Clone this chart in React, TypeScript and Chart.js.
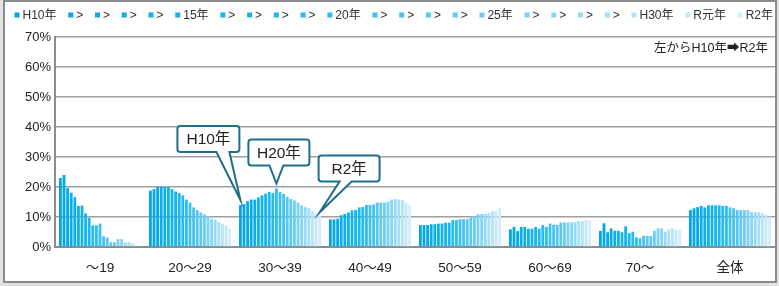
import React, { useEffect, useRef } from "react";
import { Chart, registerables } from "chart.js";

Chart.register(...registerables);

const FONT = "'Liberation Sans', 'Noto Sans CJK JP', 'DejaVu Sans', sans-serif";

const categories = ["～19", "20～29", "30～39", "40～49", "50～59", "60～69", "70～", "全体"];
const yearLabels = [
  "H10年", ">", ">", ">", ">", "15年", ">", ">", ">", ">", "20年",
  ">", ">", ">", ">", "25年", ">", ">", ">", ">", "H30年", "R元年", "R2年",
];
const yMax = 70;
const yStep = 10;
const note = "左からH10年➡R2年";

// values (%) for each age group, H10 → R2
const age19 = [23.0, 24.0, 19.6, 18.1, 16.6, 13.7, 13.8, 11.2, 9.7, 7.2, 7.2, 7.8, 3.6, 3.1, 1.6, 1.6, 2.6, 2.6, 1.6, 1.6, 1.1, 0.6, 0.3];
const age20 = [18.8, 19.3, 20.0, 20.0, 20.0, 20.0, 19.3, 18.5, 18.0, 17.2, 15.8, 14.8, 13.2, 12.3, 11.5, 10.9, 10.3, 9.4, 9.2, 8.3, 7.6, 7.2, 6.1];
const age30 = [14.0, 14.3, 15.3, 15.8, 15.8, 16.5, 17.2, 17.8, 18.4, 18.0, 19.5, 18.3, 17.7, 16.7, 16.0, 15.5, 14.8, 14.0, 13.3, 13.0, 12.0, 11.2, 10.5];
const age40 = [9.2, 9.2, 9.4, 10.6, 11.0, 11.5, 12.2, 12.4, 13.2, 13.3, 14.0, 14.0, 14.2, 14.8, 14.8, 14.8, 15.1, 15.8, 16.0, 15.8, 15.7, 14.8, 14.0];
const age50 = [7.3, 7.3, 7.3, 7.6, 7.6, 7.8, 7.8, 8.1, 8.1, 9.0, 9.0, 9.3, 9.3, 9.3, 9.8, 10.4, 11.0, 11.0, 11.0, 11.3, 12.0, 12.0, 13.0];
const age60 = [5.9, 6.7, 5.3, 6.7, 6.7, 6.1, 6.1, 6.7, 6.1, 7.3, 6.7, 7.8, 7.4, 7.4, 8.2, 8.2, 8.2, 8.2, 8.3, 8.7, 8.7, 9.1, 8.7];
const age70 = [5.4, 7.9, 4.9, 6.2, 5.4, 5.4, 4.9, 6.9, 4.6, 5.1, 3.2, 2.9, 3.7, 3.7, 3.7, 5.4, 6.2, 6.2, 5.1, 5.8, 6.2, 5.7, 5.7];
const ageAll = [12.3, 12.9, 13.3, 13.7, 13.2, 13.9, 13.9, 13.9, 13.9, 13.7, 13.7, 13.2, 12.9, 12.3, 12.3, 12.3, 12.3, 11.6, 11.6, 11.6, 11.2, 10.7, 10.1];

const groups = [age19, age20, age30, age40, age50, age60, age70, ageAll];

// callouts: which bar (dataset index, category index) they point at
const callouts = [
  { text: "H10年", dataset: 0, category: 2 },
  { text: "H20年", dataset: 10, category: 2 },
  { text: "R2年", dataset: 22, category: 2 },
];

const colorStops: [number, number[]][] = [
  [0, [0, 166, 232]],
  [8, [25, 184, 238]],
  [14, [95, 201, 242]],
  [18, [150, 218, 246]],
  [22, [212, 237, 250]],
];

function colorAt(i: number): string {
  for (let k = 0; k < colorStops.length - 1; k++) {
    const [a, ca] = colorStops[k];
    const [b, cb] = colorStops[k + 1];
    if (i >= a && i <= b) {
      const t = (i - a) / (b - a);
      const c = ca.map((v, j) => Math.round(v + (cb[j] - v) * t));
      return `rgb(${c[0]},${c[1]},${c[2]})`;
    }
  }
  return "rgb(212,237,250)";
}

function calloutPath(
  ctx: CanvasRenderingContext2D,
  l: number, t: number, r: number, b: number,
  b1: number, b2: number, tx: number, ty: number, rad: number
) {
  ctx.beginPath();
  ctx.moveTo(l + rad, t);
  ctx.lineTo(r - rad, t);
  ctx.arcTo(r, t, r, t + rad, rad);
  ctx.lineTo(r, b - rad);
  ctx.arcTo(r, b, r - rad, b, rad);
  ctx.lineTo(b2, b);
  ctx.lineTo(tx, ty);
  ctx.lineTo(b1, b);
  ctx.lineTo(l + rad, b);
  ctx.arcTo(l, b, l, b - rad, rad);
  ctx.lineTo(l, t + rad);
  ctx.arcTo(l, t, l + rad, t, rad);
  ctx.closePath();
}

const framePlugin = {
  id: "frame",
  beforeDraw(chart: any) {
    const ctx = chart.ctx as CanvasRenderingContext2D;
    ctx.save();
    ctx.fillStyle = "#e2e2e2";
    ctx.fillRect(0, 0, chart.width, chart.height);
    ctx.fillStyle = "#ffffff";
    ctx.fillRect(4, 1, chart.width - 7, chart.height - 5);
    ctx.restore();
  },
  afterDraw(chart: any) {
    const ctx = chart.ctx as CanvasRenderingContext2D;
    ctx.save();
    ctx.strokeStyle = "#8a8a8a";
    ctx.lineWidth = 2;
    ctx.strokeRect(4, 1, chart.width - 7, chart.height - 5);
    ctx.restore();
  },
};

const legendPlugin = {
  id: "customLegend",
  afterDraw(chart: any) {
    const ctx = chart.ctx as CanvasRenderingContext2D;
    const ds = chart.data.datasets;
    ctx.save();
    ctx.font = `12px ${FONT}`;
    ctx.textBaseline = "middle";
    ctx.textAlign = "left";
    const startX = 14.5;
    const endX = 773;
    const cy = 15;
    const widths = ds.map((d: any) => 8 + ctx.measureText(d.label).width);
    const total = widths.reduce((a: number, b: number) => a + b, 0);
    const gap = (endX - startX - total) / (ds.length - 1);
    let x = startX;
    ds.forEach((d: any, i: number) => {
      ctx.fillStyle = d.backgroundColor;
      ctx.fillRect(x, cy - 2.5, 5, 5);
      ctx.fillStyle = "#333333";
      ctx.fillText(d.label, x + 8, cy + 0.5);
      x += widths[i] + gap;
    });
    ctx.restore();
  },
};

const annotationPlugin = {
  id: "annotations",
  afterDatasetsDraw(chart: any) {
    const ctx = chart.ctx as CanvasRenderingContext2D;
    const area = chart.chartArea;
    ctx.save();
    // note at top right
    ctx.font = `12.5px ${FONT}`;
    ctx.fillStyle = "#222222";
    ctx.textAlign = "right";
    ctx.textBaseline = "middle";
    ctx.fillText(note, area.right - 7, 48.5);

    callouts.forEach((c, idx) => {
      const el = chart.getDatasetMeta(c.dataset).data[c.category];
      if (!el) return;
      let tx = el.x, ty = el.y;
      let l, r, t, b, b1, b2;
      if (idx === 0) {
        ty -= 5;
        l = tx - 63; r = tx - 1; t = ty - 74; b = ty - 48; b1 = tx - 24; b2 = tx - 11;
      } else if (idx === 1) {
        ty -= 5;
        l = tx - 28; r = tx + 33; t = ty - 44; b = ty - 18; b1 = tx - 7; b2 = tx + 7;
      } else {
        ty -= 3;
        l = tx - 1; r = tx + 60; t = ty - 57; b = ty - 31; b1 = tx + 20; b2 = tx + 32;
      }
      calloutPath(ctx, l, t, r, b, b1, b2, tx, ty, 3);
      ctx.fillStyle = "#ffffff";
      ctx.fill();
      ctx.strokeStyle = "#1f6e8c";
      ctx.lineWidth = 2;
      ctx.lineJoin = "miter";
      ctx.stroke();
      ctx.font = `15.5px ${FONT}`;
      ctx.fillStyle = "#222222";
      ctx.textAlign = "center";
      ctx.textBaseline = "middle";
      ctx.fillText(c.text, (l + r) / 2, (t + b) / 2 + 1);
    });
    ctx.restore();
  },
};

export default function App() {
  const ref = useRef<HTMLCanvasElement | null>(null);

  useEffect(() => {
    if (!ref.current) return;
    const datasets = yearLabels.map((label, i) => ({
      label,
      data: groups.map((g) => g[i]),
      backgroundColor: colorAt(i),
      borderWidth: 0,
      barPercentage: 0.78,
      categoryPercentage: 0.92,
    }));
    const chart = new Chart(ref.current, {
      type: "bar",
      data: { labels: categories, datasets },
      options: {
        animation: false,
        responsive: false,
        maintainAspectRatio: false,
        layout: { padding: { top: 37, left: 8, right: 4, bottom: 8 } },
        plugins: {
          legend: { display: false },
          tooltip: { enabled: false },
        },
        scales: {
          x: {
            grid: { display: false },
            border: { display: true, color: "#8c8c8c", width: 2 },
            ticks: {
              font: { family: FONT, size: 13.5 },
              color: "#222222",
              padding: 5,
              maxRotation: 0,
            },
            afterFit: (s: any) => {
              s.height = 31;
            },
          },
          y: {
            min: 0,
            max: yMax,
            ticks: {
              stepSize: yStep,
              callback: (v: any) => `${v}%`,
              font: { family: FONT, size: 13 },
              color: "#222222",
              padding: 4,
            },
            grid: { color: "#a0a0a0", lineWidth: 1.5, drawTicks: false },
            border: { display: true, color: "#8c8c8c", width: 2 },
            afterFit: (s: any) => {
              s.width = 47;
            },
          },
        },
      },
      plugins: [framePlugin, legendPlugin, annotationPlugin],
    });
    return () => chart.destroy();
  }, []);

  return (
    <div style={{ position: "absolute", left: 0, top: 0, width: 779, height: 286 }}>
      <canvas ref={ref} width={779} height={286} style={{ display: "block" }} />
    </div>
  );
}
